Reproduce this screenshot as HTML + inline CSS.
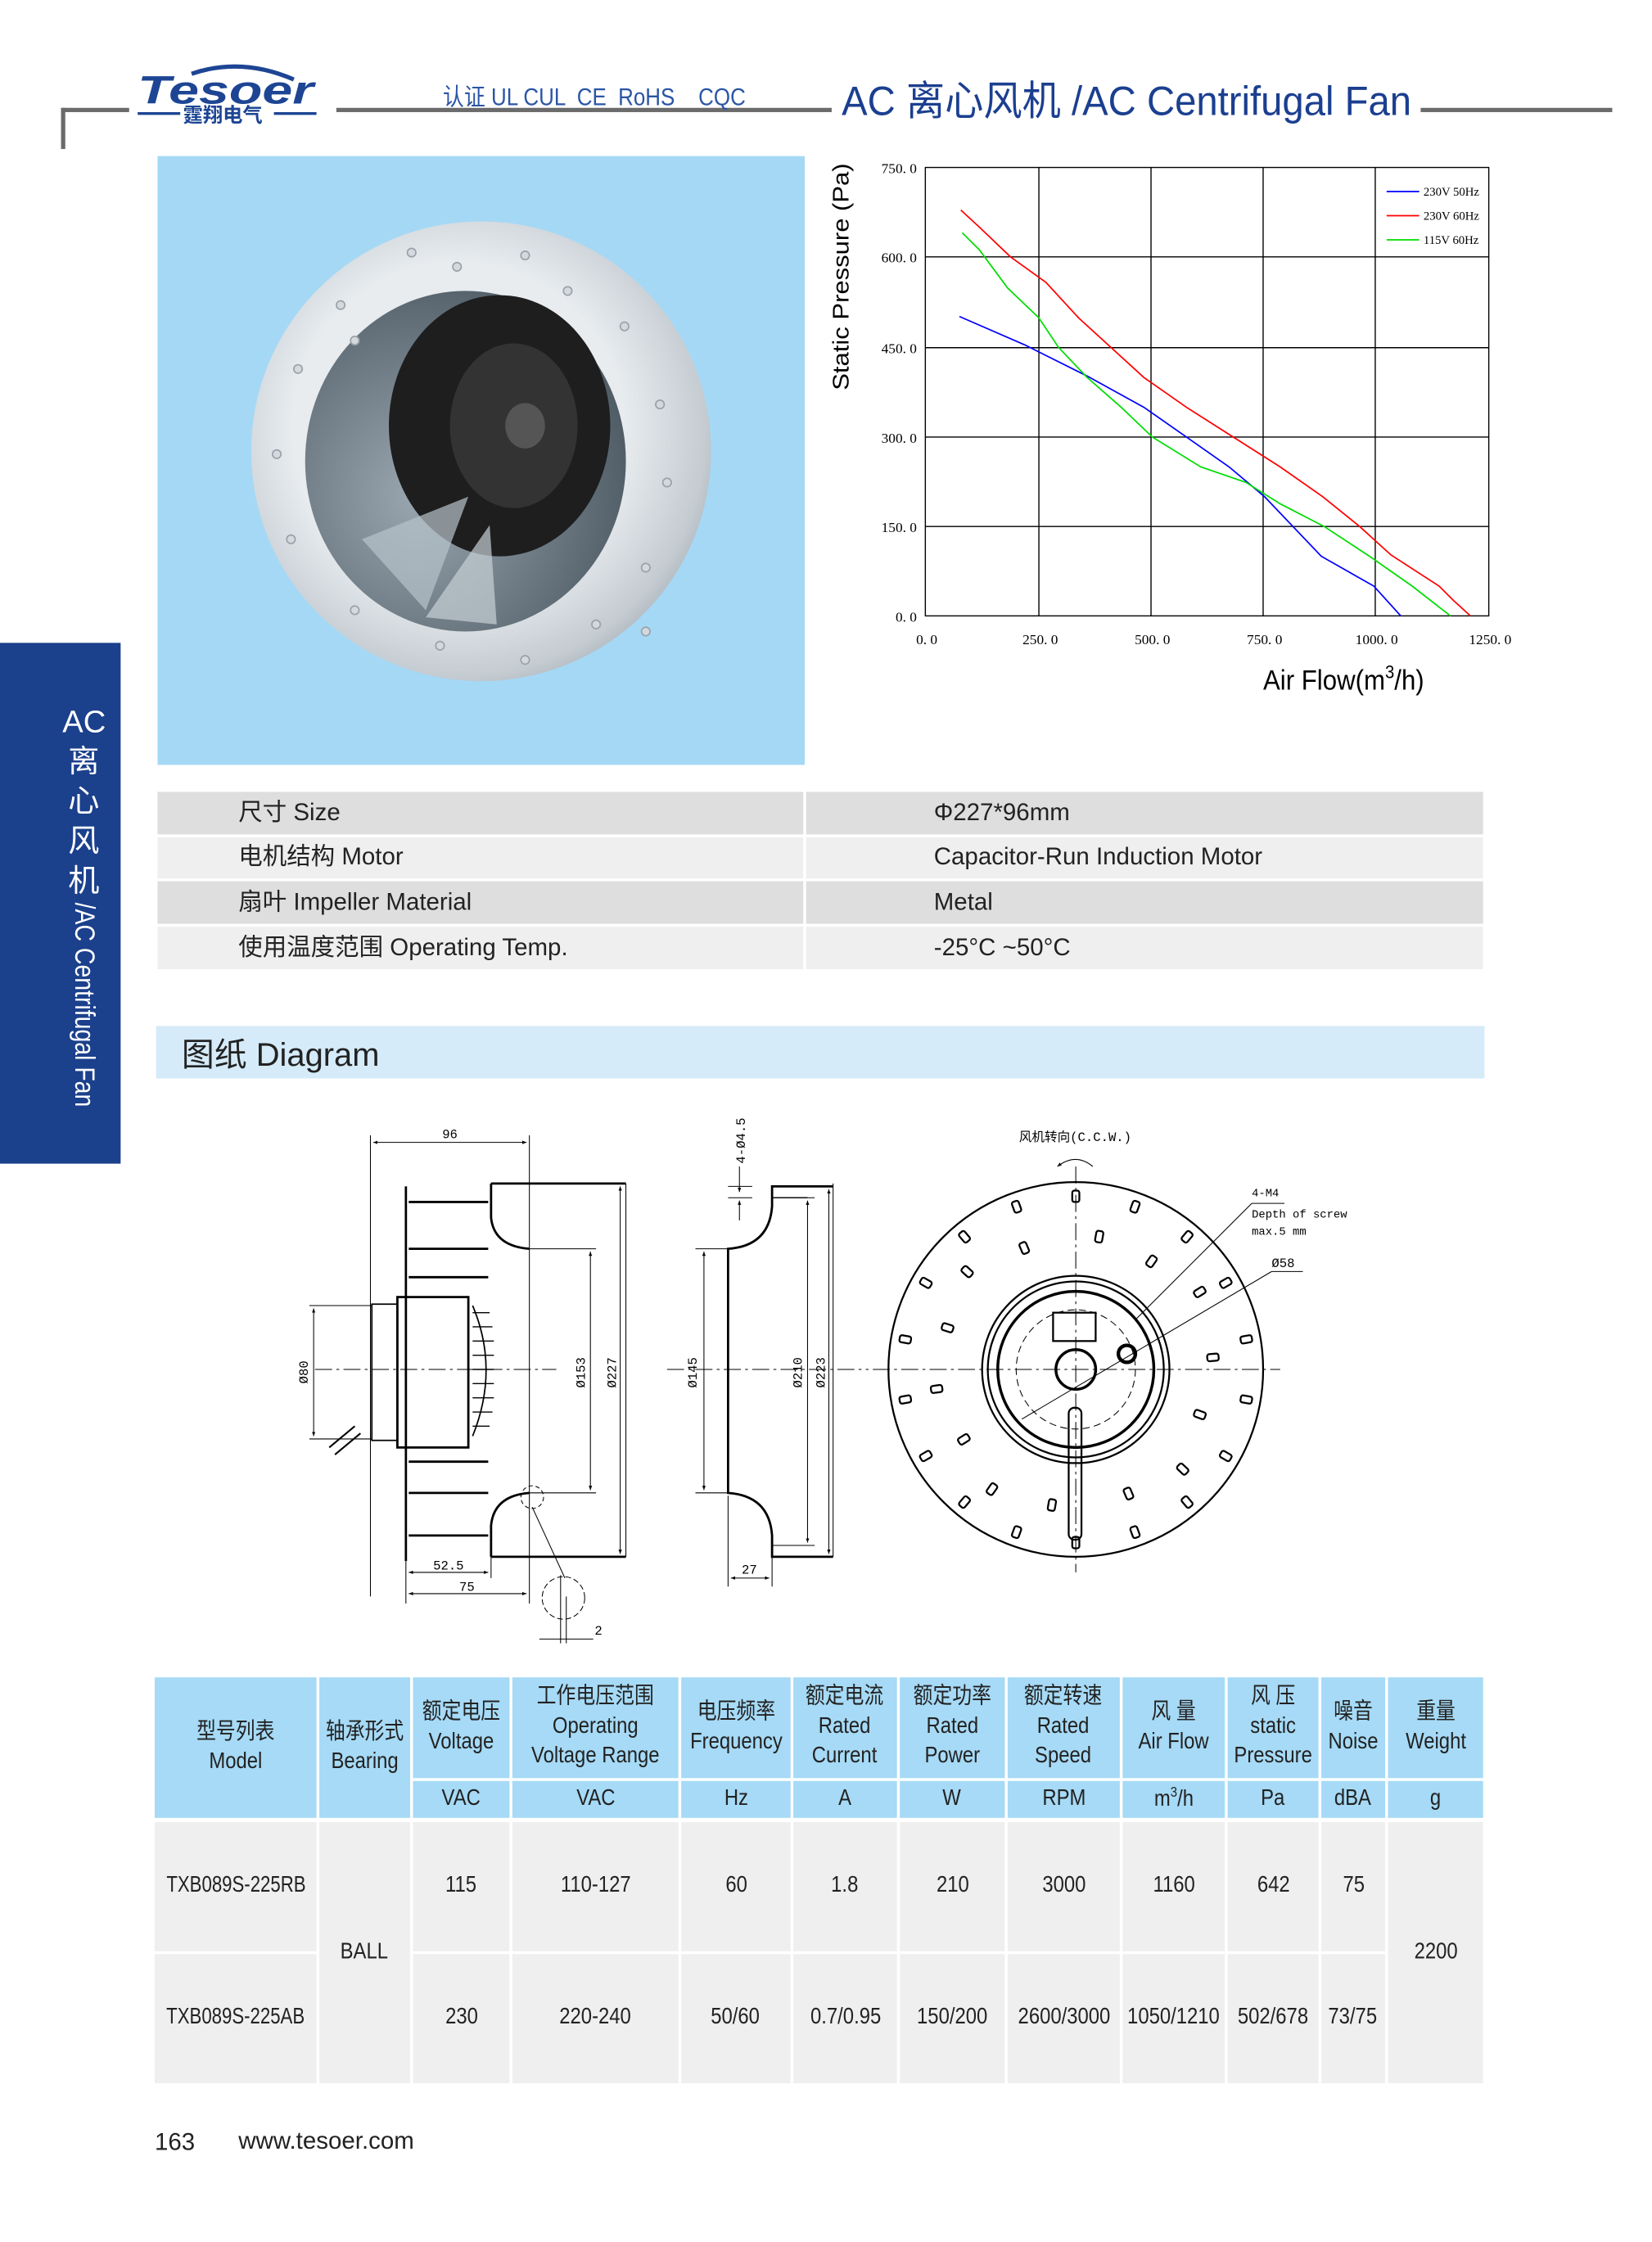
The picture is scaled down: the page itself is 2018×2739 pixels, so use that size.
<!DOCTYPE html>
<html><head><meta charset="utf-8">
<style>
html,body{margin:0;padding:0;background:#fff;}
body{width:2018px;height:2738px;overflow:hidden;position:relative;}
#pg{position:absolute;left:0;top:0;width:1164px;height:1580px;transform:scale(1.73368);transform-origin:0 0;font-family:"Liberation Sans","Noto Sans CJK SC",sans-serif;color:#222;}
.a{position:absolute;}
.c{position:absolute;display:flex;align-items:center;justify-content:center;text-align:center;line-height:1.3;white-space:nowrap;font-size:16px;}
.c span{display:inline-block;transform:scaleX(.86);}
.hd{background:#a6daf6;}
.dt{background:#efefef;}
.sp{position:absolute;font-size:17px;line-height:30px;white-space:nowrap;}
</style></head><body><div id="pg">

<!-- header -->
<div class="a" style="left:43px;top:76px;width:48px;height:3px;background:#6b6b6b"></div>
<div class="a" style="left:43px;top:76px;width:3px;height:29px;background:#6b6b6b"></div>
<div class="a" style="left:237px;top:76px;width:349px;height:3px;background:#6b6b6b"></div>
<div class="a" style="left:1001px;top:76px;width:135px;height:3px;background:#6b6b6b"></div>
<svg class="a" style="left:95px;top:42px" width="130" height="48" viewBox="0 0 130 48">
 <path d="M40 10 Q75 -2 112 14" stroke="#1d4594" stroke-width="3" fill="none"/>
 <text x="2" y="31" font-family="Liberation Sans" font-weight="bold" font-style="italic" font-size="28" fill="#1d4594" textLength="124" lengthAdjust="spacingAndGlyphs">Tesoer</text>
 <line x1="2" y1="38" x2="32" y2="38" stroke="#1d4594" stroke-width="2"/>
 <line x1="98" y1="38" x2="128" y2="38" stroke="#1d4594" stroke-width="2"/>
 <text x="34" y="44" font-family="Noto Sans CJK SC" font-weight="bold" font-size="14" fill="#1d4594">霆翔电气</text>
</svg>
<div class="a" style="left:312px;top:54px;font-size:17px;color:#2a55a5;white-space:nowrap;transform:scaleX(.88);transform-origin:0 0">认证 UL CUL &nbsp;CE &nbsp;RoHS &nbsp;&nbsp;&nbsp;CQC</div>
<div class="a" style="left:593px;top:48px;font-size:29px;color:#1b3f90;white-space:nowrap;transform:scaleX(.94);transform-origin:0 0">AC 离心风机 /AC Centrifugal Fan</div>

<!-- sidebar -->
<div class="a" style="left:0;top:453px;width:85px;height:367px;background:#1b408c"></div>
<div class="a" style="left:44px;top:495px;width:30px;text-align:center;color:#fff;font-size:22px;line-height:28px">AC<br>离<br>心<br>风<br>机</div>
<div class="a" style="left:59px;top:636px;color:#fff;font-size:20px;white-space:nowrap;transform:rotate(90deg) scaleX(.82);transform-origin:0 0;margin-left:11px">/AC Centrifugal Fan</div>

<!-- photo -->
<div class="a" style="left:111px;top:110px;width:456px;height:429px;background:#a5d8f5;overflow:hidden">
<svg width="456" height="429" viewBox="111 110 456 429">
 <defs>
  <radialGradient id="ring" cx="0.45" cy="0.45" r="0.6"><stop offset="0.6" stop-color="#e8ecef"/><stop offset="0.9" stop-color="#c4cbd1"/><stop offset="1" stop-color="#aab3bb"/></radialGradient>
  <radialGradient id="inn" cx="0.35" cy="0.6" r="0.7"><stop offset="0" stop-color="#9aa7b1"/><stop offset="1" stop-color="#4d5a63"/></radialGradient>
 </defs>
 <ellipse cx="339" cy="318" rx="162" ry="162" fill="url(#ring)"/>
 <ellipse cx="328" cy="325" rx="113" ry="120" fill="url(#inn)"/>
 <ellipse cx="352" cy="300" rx="78" ry="92" fill="#1e1e1e"/>
 <ellipse cx="362" cy="300" rx="45" ry="58" fill="#333"/>
 <ellipse cx="370" cy="300" rx="14" ry="16" fill="#555"/>
 <path d="M255 380 L300 430 L330 350 Z" fill="#b8c3cb" opacity="0.7"/>
 <path d="M300 435 L350 440 L345 370 Z" fill="#c6d0d6" opacity="0.7"/>
 <g fill="#d4d9dd" stroke="#9aa3aa" stroke-width="1">
  <circle cx="290" cy="178" r="3"/><circle cx="322" cy="188" r="3"/><circle cx="370" cy="180" r="3"/><circle cx="400" cy="205" r="3"/><circle cx="440" cy="230" r="3"/><circle cx="465" cy="285" r="3"/><circle cx="470" cy="340" r="3"/><circle cx="455" cy="400" r="3"/><circle cx="420" cy="440" r="3"/><circle cx="370" cy="465" r="3"/><circle cx="310" cy="455" r="3"/><circle cx="250" cy="430" r="3"/><circle cx="205" cy="380" r="3"/><circle cx="195" cy="320" r="3"/><circle cx="210" cy="260" r="3"/><circle cx="240" cy="215" r="3"/><circle cx="250" cy="240" r="3"/><circle cx="455" cy="445" r="3"/>
 </g>
</svg></div>

<!-- chart -->
<svg class="a" style="left:570px;top:105px" width="520" height="400" viewBox="570 105 520 400" font-family="Liberation Serif" font-size="10">
 <g stroke="#000" stroke-width="0.8" fill="none">
  <rect x="652" y="118" width="397" height="316"/>
  <line x1="732" y1="118" x2="732" y2="434"/><line x1="811" y1="118" x2="811" y2="434"/><line x1="890" y1="118" x2="890" y2="434"/><line x1="969" y1="118" x2="969" y2="434"/>
  <line x1="652" y1="181" x2="1049" y2="181"/><line x1="652" y1="245" x2="1049" y2="245"/><line x1="652" y1="308" x2="1049" y2="308"/><line x1="652" y1="371" x2="1049" y2="371"/>
 </g>
 <g fill="#000" text-anchor="end">
  <text x="646" y="122">750. 0</text><text x="646" y="185">600. 0</text><text x="646" y="249">450. 0</text><text x="646" y="312">300. 0</text><text x="646" y="375">150. 0</text><text x="646" y="438">0. 0</text>
 </g>
 <g fill="#000" text-anchor="middle">
  <text x="653" y="454">0. 0</text><text x="733" y="454">250. 0</text><text x="812" y="454">500. 0</text><text x="891" y="454">750. 0</text><text x="970" y="454">1000. 0</text><text x="1050" y="454">1250. 0</text>
 </g>
 <polyline fill="none" stroke="#0000ff" stroke-width="1" points="676,223 722,243 766,265 806,287 836,308 866,329 891,350 911,371 931,392 968,413 987,434"/>
 <polyline fill="none" stroke="#ff0000" stroke-width="1" points="677,148 690,160 712,181 737,199 760,224 806,266 836,287 869,308 902,329 932,350 958,371 980,391 1014,413 1024,423 1036,434"/>
 <polyline fill="none" stroke="#00dd00" stroke-width="1" points="678,164 690,176 710,203 732,224 746,245 766,266 790,287 812,308 846,329 878,340 902,355 933,371 965,392 995,413 1022,434"/>
 <line x1="977" y1="135" x2="1000" y2="135" stroke="#0000ff"/><line x1="977" y1="152" x2="1000" y2="152" stroke="#ff0000"/><line x1="977" y1="169" x2="1000" y2="169" stroke="#00dd00"/>
 <g font-size="8.5"><text x="1003" y="138">230V 50Hz</text><text x="1003" y="155">230V 60Hz</text><text x="1003" y="172">115V 60Hz</text></g>
 <text transform="translate(598,275) rotate(-90)" font-family="Liberation Sans" font-size="16" fill="#000" textLength="160" lengthAdjust="spacingAndGlyphs">Static Pressure (Pa)</text>
 <text x="890" y="486" font-family="Liberation Sans" font-size="20" fill="#000" transform="translate(890 0) scale(.9 1) translate(-890 0)">Air Flow(m<tspan font-size="13" dy="-8">3</tspan><tspan dy="8">/h)</tspan></text>
</svg>

<!-- spec table -->
<div class="a" style="left:111px;top:558px;width:934px;height:30px;background:#dedede"></div>
<div class="a" style="left:111px;top:590px;width:934px;height:29px;background:#efefef"></div>
<div class="a" style="left:111px;top:621px;width:934px;height:30px;background:#dedede"></div>
<div class="a" style="left:111px;top:653px;width:934px;height:30px;background:#efefef"></div>
<div class="a" style="left:566px;top:555px;width:2px;height:130px;background:#fff"></div>
<div class="sp" style="left:168px;top:558px">尺寸 Size</div><div class="sp" style="left:658px;top:558px">Φ227*96mm</div>
<div class="sp" style="left:168px;top:589px">电机结构 Motor</div><div class="sp" style="left:658px;top:589px">Capacitor-Run Induction Motor</div>
<div class="sp" style="left:168px;top:621px">扇叶 Impeller Material</div><div class="sp" style="left:658px;top:621px">Metal</div>
<div class="sp" style="left:168px;top:653px">使用温度范围 Operating Temp.</div><div class="sp" style="left:658px;top:653px">-25°C ~50°C</div>

<!-- diagram header -->
<div class="a" style="left:110px;top:723px;width:936px;height:37px;background:#d5ebf9"></div>
<div class="a" style="left:128px;top:728px;font-size:23px;line-height:30px">图纸 Diagram</div>

<!-- drawings -->
<svg class="a" style="left:190px;top:780px" width="780" height="390" viewBox="190 780 780 390" font-family="Liberation Mono" font-size="9" fill="none" stroke="#000">
 <defs>
  <marker id="ar" markerWidth="6" markerHeight="6" refX="5" refY="3" orient="auto-start-reverse"><path d="M0,1 L5,3 L0,5z" fill="#000" stroke="none"/></marker>
  <g id="hole"><rect x="-2.5" y="-4" width="5" height="8" rx="1.5" stroke-width="1.3"/></g>
 </defs>
 <g stroke-width="0.6">
  <line x1="261" y1="800" x2="261" y2="1125"/><line x1="373" y1="800" x2="373" y2="1130"/>
  <line x1="263" y1="805" x2="371" y2="805" marker-start="url(#ar)" marker-end="url(#ar)"/>
  <line x1="373" y1="880" x2="420" y2="880"/><line x1="373" y1="1052" x2="420" y2="1052"/>
  <line x1="416" y1="882" x2="416" y2="1050" marker-start="url(#ar)" marker-end="url(#ar)"/>
  <line x1="441" y1="834" x2="441" y2="1097"/><line x1="437" y1="836" x2="437" y2="1095" marker-start="url(#ar)" marker-end="url(#ar)"/>
  <line x1="218" y1="920" x2="262" y2="920"/><line x1="218" y1="1014" x2="262" y2="1014"/>
  <line x1="221" y1="922" x2="221" y2="1012" marker-start="url(#ar)" marker-end="url(#ar)"/>
  <line x1="286" y1="1100" x2="286" y2="1130"/><line x1="346" y1="1097" x2="346" y2="1112"/>
  <line x1="288" y1="1108" x2="344" y2="1108" marker-start="url(#ar)" marker-end="url(#ar)"/>
  <line x1="288" y1="1123" x2="371" y2="1123" marker-start="url(#ar)" marker-end="url(#ar)"/>
  <line x1="222" y1="965" x2="392" y2="965" stroke-dasharray="12,3,2,3"/>
  <circle cx="375" cy="1055" r="8" stroke-dasharray="3,2"/>
  <line x1="375" y1="1062" x2="398" y2="1112"/>
  <circle cx="397" cy="1126" r="15" stroke-dasharray="4,2"/>
  <line x1="395" y1="1110" x2="395" y2="1158"/><line x1="399" y1="1125" x2="399" y2="1158"/>
  <line x1="380" y1="1155" x2="418" y2="1155"/>
 </g>
 <g stroke-width="1.6">
  <line x1="286" y1="836" x2="286" y2="1100"/>
  <path d="M346 834 L441 834 M346 834 L346 858 Q348 878 373 880"/>
  <path d="M346 1097 L441 1097 M346 1097 L346 1075 Q348 1054 373 1052"/>
  <line x1="288" y1="847" x2="344" y2="847"/><line x1="288" y1="880" x2="344" y2="880"/><line x1="288" y1="900" x2="344" y2="900"/>
  <line x1="288" y1="1030" x2="344" y2="1030"/><line x1="288" y1="1052" x2="344" y2="1052"/><line x1="288" y1="1082" x2="344" y2="1082"/>
  <rect x="280" y="914" width="50" height="106"/>
  <rect x="262" y="919" width="18" height="96" stroke-width="1"/>
  <path d="M333 920 Q352 965 333 1012" stroke-width="1"/>
  <path d="M250 1005 L232 1020 M254 1010 L236 1025" stroke-width="1.2"/>
 </g>
 <g stroke="#000" stroke-width="0.8">
  <path d="M333 925 h12 M333 935 h14 M333 945 h15 M333 955 h15 M333 965 h15 M333 975 h15 M333 985 h15 M333 995 h14 M333 1005 h12"/>
 </g>
 <g stroke-width="0.6">
  <line x1="521" y1="822" x2="521" y2="840" marker-end="url(#ar)"/><line x1="521" y1="860" x2="521" y2="846" marker-end="url(#ar)"/>
  <line x1="513" y1="836" x2="530" y2="836"/><line x1="513" y1="844" x2="530" y2="844"/>
  <line x1="490" y1="880" x2="513" y2="880"/><line x1="490" y1="1052" x2="513" y2="1052"/>
  <line x1="496" y1="882" x2="496" y2="1050" marker-start="url(#ar)" marker-end="url(#ar)"/>
  <line x1="544" y1="844" x2="574" y2="844"/><line x1="544" y1="1089" x2="574" y2="1089"/>
  <line x1="569" y1="846" x2="569" y2="1087" marker-start="url(#ar)" marker-end="url(#ar)"/>
  <line x1="587" y1="834" x2="587" y2="1097"/><line x1="584" y1="838" x2="584" y2="1095" marker-start="url(#ar)" marker-end="url(#ar)"/>
  <line x1="513" y1="1054" x2="513" y2="1118"/><line x1="544" y1="1097" x2="544" y2="1118"/>
  <line x1="515" y1="1112" x2="542" y2="1112" marker-start="url(#ar)" marker-end="url(#ar)"/>
  <line x1="470" y1="965" x2="612" y2="965" stroke-dasharray="12,3,2,3"/>
 </g>
 <g stroke-width="1.6">
  <path d="M587 836 L544 836 L544 850 Q542 878 513 880 L513 1052 Q542 1054 544 1082 L544 1097 L587 1097"/>
  <line x1="544" y1="844" x2="569" y2="844" stroke-width="0.8"/>
 </g>
 <g stroke-width="0.6">
  <line x1="615" y1="965" x2="902" y2="965" stroke-dasharray="12,3,2,3"/>
  <line x1="758" y1="822" x2="758" y2="1108" stroke-dasharray="12,3,2,3"/>
  <line x1="882" y1="848" x2="800" y2="930"/><line x1="882" y1="848" x2="905" y2="848"/>
  <line x1="896" y1="896" x2="720" y2="1000"/><line x1="896" y1="896" x2="918" y2="896"/>
  <path d="M745 822 Q758 812 770 822" marker-start="url(#ar)"/>
  <circle cx="758" cy="965" r="42" stroke-dasharray="5,3"/>
 </g>
 <g stroke-width="1.3">
  <circle cx="758" cy="965" r="132"/>
  <circle cx="758" cy="965" r="66"/>
  <circle cx="758" cy="965" r="62"/>
  <circle cx="758" cy="965" r="55" stroke-width="2"/>
  <circle cx="758" cy="965" r="14" stroke-width="2"/>
  <rect x="742" y="925" width="30" height="20"/>
  <circle cx="794" cy="954" r="6" stroke-width="2.5"/>
  <rect x="753" y="992" width="9" height="93" rx="4"/>
 </g>
 <g>
  <use href="#hole" transform="rotate(0 758 965) translate(758 843)"/>
  <use href="#hole" transform="rotate(20 758 965) translate(758 843)"/>
  <use href="#hole" transform="rotate(40 758 965) translate(758 843)"/>
  <use href="#hole" transform="rotate(60 758 965) translate(758 843)"/>
  <use href="#hole" transform="rotate(80 758 965) translate(758 843)"/>
  <use href="#hole" transform="rotate(100 758 965) translate(758 843)"/>
  <use href="#hole" transform="rotate(120 758 965) translate(758 843)"/>
  <use href="#hole" transform="rotate(140 758 965) translate(758 843)"/>
  <use href="#hole" transform="rotate(160 758 965) translate(758 843)"/>
  <use href="#hole" transform="rotate(180 758 965) translate(758 843)"/>
  <use href="#hole" transform="rotate(200 758 965) translate(758 843)"/>
  <use href="#hole" transform="rotate(220 758 965) translate(758 843)"/>
  <use href="#hole" transform="rotate(240 758 965) translate(758 843)"/>
  <use href="#hole" transform="rotate(260 758 965) translate(758 843)"/>
  <use href="#hole" transform="rotate(280 758 965) translate(758 843)"/>
  <use href="#hole" transform="rotate(300 758 965) translate(758 843)"/>
  <use href="#hole" transform="rotate(320 758 965) translate(758 843)"/>
  <use href="#hole" transform="rotate(340 758 965) translate(758 843)"/>
  <use href="#hole" transform="rotate(10 758 965) translate(758 870)"/>
  <use href="#hole" transform="rotate(35 758 965) translate(758 872)"/>
  <use href="#hole" transform="rotate(58 758 965) translate(758 862)"/>
  <use href="#hole" transform="rotate(85 758 965) translate(758 868)"/>
  <use href="#hole" transform="rotate(110 758 965) translate(758 872)"/>
  <use href="#hole" transform="rotate(133 758 965) translate(758 862)"/>
  <use href="#hole" transform="rotate(157 758 965) translate(758 870)"/>
  <use href="#hole" transform="rotate(190 758 965) translate(758 868)"/>
  <use href="#hole" transform="rotate(215 758 965) translate(758 862)"/>
  <use href="#hole" transform="rotate(238 758 965) translate(758 872)"/>
  <use href="#hole" transform="rotate(262 758 965) translate(758 866)"/>
  <use href="#hole" transform="rotate(288 758 965) translate(758 870)"/>
  <use href="#hole" transform="rotate(312 758 965) translate(758 862)"/>
  <use href="#hole" transform="rotate(337 758 965) translate(758 872)"/>
 </g>
 <g fill="#000" stroke="none">
  <text x="317" y="802" text-anchor="middle">96</text>
  <text x="316" y="1106" text-anchor="middle">52.5</text>
  <text x="329" y="1121" text-anchor="middle">75</text>
  <text x="419" y="1152">2</text>
  <text x="528" y="1109" text-anchor="middle">27</text>
  <text transform="translate(217,975) rotate(-90)">Ø80</text>
  <text transform="translate(412,978) rotate(-90)">Ø153</text>
  <text transform="translate(434,978) rotate(-90)">Ø227</text>
  <text transform="translate(491,978) rotate(-90)">Ø145</text>
  <text transform="translate(565,978) rotate(-90)">Ø210</text>
  <text transform="translate(581,978) rotate(-90)">Ø223</text>
  <text transform="translate(525,820) rotate(-90)">4-Ø4.5</text>
  <text x="718" y="804" font-family="Liberation Mono,Noto Sans CJK SC" font-size="9">风机转向(C.C.W.)</text>
  <text x="882" y="843" font-size="8">4-M4</text>
  <text x="882" y="858" font-size="8">Depth of screw</text>
  <text x="882" y="870" font-size="8">max.5 mm</text>
  <text x="896" y="893">Ø58</text>
 </g>
</svg>

<!-- main table -->
<div class="c hd" style="left:109px;top:1182px;width:114px;height:99px"><span>型号列表<br>Model</span></div>
<div class="c hd" style="left:225px;top:1182px;width:64px;height:99px"><span>轴承形式<br>Bearing</span></div>
<div class="c hd" style="left:291px;top:1182px;width:68px;height:71px"><span>额定电压<br>Voltage</span></div>
<div class="c hd" style="left:361px;top:1182px;width:117px;height:71px"><span>工作电压范围<br>Operating<br>Voltage Range</span></div>
<div class="c hd" style="left:480px;top:1182px;width:77px;height:71px"><span>电压频率<br>Frequency</span></div>
<div class="c hd" style="left:559px;top:1182px;width:73px;height:71px"><span>额定电流<br>Rated<br>Current</span></div>
<div class="c hd" style="left:634px;top:1182px;width:74px;height:71px"><span>额定功率<br>Rated<br>Power</span></div>
<div class="c hd" style="left:710px;top:1182px;width:79px;height:71px"><span>额定转速<br>Rated<br>Speed</span></div>
<div class="c hd" style="left:791px;top:1182px;width:72px;height:71px"><span>风 量<br>Air Flow</span></div>
<div class="c hd" style="left:865px;top:1182px;width:64px;height:71px"><span>风 压<br>static<br>Pressure</span></div>
<div class="c hd" style="left:931px;top:1182px;width:45px;height:71px"><span>噪音<br>Noise</span></div>
<div class="c hd" style="left:978px;top:1182px;width:67px;height:71px"><span>重量<br>Weight</span></div>
<div class="c hd" style="left:291px;top:1255px;width:68px;height:26px"><span>VAC</span></div>
<div class="c hd" style="left:361px;top:1255px;width:117px;height:26px"><span>VAC</span></div>
<div class="c hd" style="left:480px;top:1255px;width:77px;height:26px"><span>Hz</span></div>
<div class="c hd" style="left:559px;top:1255px;width:73px;height:26px"><span>A</span></div>
<div class="c hd" style="left:634px;top:1255px;width:74px;height:26px"><span>W</span></div>
<div class="c hd" style="left:710px;top:1255px;width:79px;height:26px"><span>RPM</span></div>
<div class="c hd" style="left:791px;top:1255px;width:72px;height:26px"><span>m<sup style="font-size:10px">3</sup>/h</span></div>
<div class="c hd" style="left:865px;top:1255px;width:64px;height:26px"><span>Pa</span></div>
<div class="c hd" style="left:931px;top:1255px;width:45px;height:26px"><span>dBA</span></div>
<div class="c hd" style="left:978px;top:1255px;width:67px;height:26px"><span>g</span></div>

<div class="c dt" style="left:109px;top:1284px;width:114px;height:91px"><span style="transform:scaleX(.8)">TXB089S-225RB</span></div>
<div class="c dt" style="left:109px;top:1377px;width:114px;height:91px"><span style="transform:scaleX(.8)">TXB089S-225AB</span></div>
<div class="c dt" style="left:225px;top:1284px;width:64px;height:184px"><span>BALL</span></div>
<div class="c dt" style="left:978px;top:1284px;width:67px;height:184px"><span>2200</span></div>

<div class="c dt" style="left:291px;top:1284px;width:68px;height:91px"><span>115</span></div>
<div class="c dt" style="left:361px;top:1284px;width:117px;height:91px"><span>110-127</span></div>
<div class="c dt" style="left:480px;top:1284px;width:77px;height:91px"><span>60</span></div>
<div class="c dt" style="left:559px;top:1284px;width:73px;height:91px"><span>1.8</span></div>
<div class="c dt" style="left:634px;top:1284px;width:74px;height:91px"><span>210</span></div>
<div class="c dt" style="left:710px;top:1284px;width:79px;height:91px"><span>3000</span></div>
<div class="c dt" style="left:791px;top:1284px;width:72px;height:91px"><span>1160</span></div>
<div class="c dt" style="left:865px;top:1284px;width:64px;height:91px"><span>642</span></div>
<div class="c dt" style="left:931px;top:1284px;width:45px;height:91px"><span>75</span></div>

<div class="c dt" style="left:291px;top:1377px;width:68px;height:91px"><span>230</span></div>
<div class="c dt" style="left:361px;top:1377px;width:117px;height:91px"><span>220-240</span></div>
<div class="c dt" style="left:480px;top:1377px;width:77px;height:91px"><span>50/60</span></div>
<div class="c dt" style="left:559px;top:1377px;width:73px;height:91px"><span>0.7/0.95</span></div>
<div class="c dt" style="left:634px;top:1377px;width:74px;height:91px"><span>150/200</span></div>
<div class="c dt" style="left:710px;top:1377px;width:79px;height:91px"><span>2600/3000</span></div>
<div class="c dt" style="left:791px;top:1377px;width:72px;height:91px"><span>1050/1210</span></div>
<div class="c dt" style="left:865px;top:1377px;width:64px;height:91px"><span>502/678</span></div>
<div class="c dt" style="left:931px;top:1377px;width:45px;height:91px"><span>73/75</span></div>

<!-- footer -->
<div class="a" style="left:109px;top:1500px;font-size:17px">163</div>
<div class="a" style="left:168px;top:1499px;font-size:17px">www.tesoer.com</div>

</div></body></html>
